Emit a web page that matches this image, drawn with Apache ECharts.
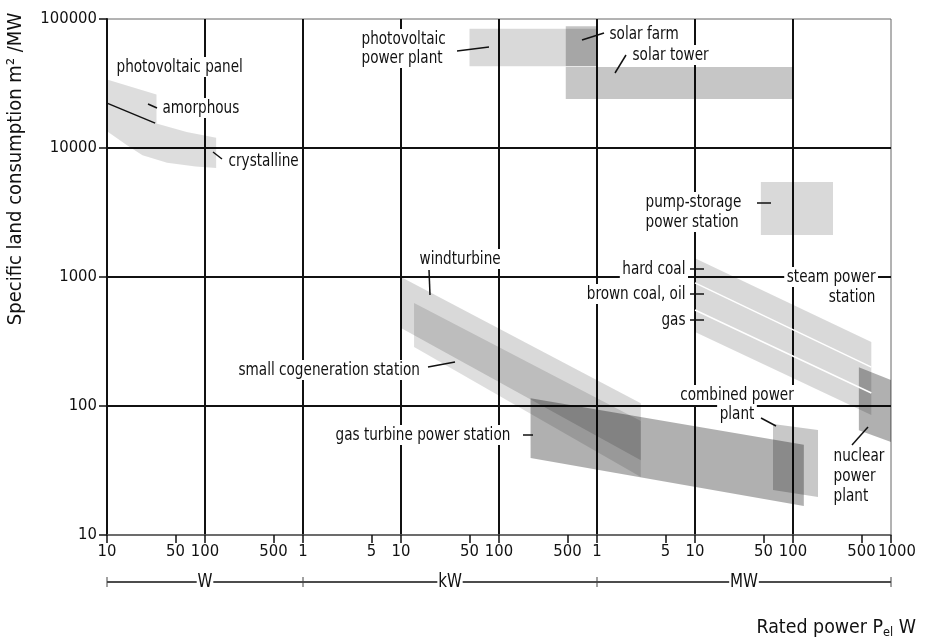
<!DOCTYPE html>
<html>
<head>
<meta charset="utf-8">
<script src="https://cdn.jsdelivr.net/npm/echarts@6/dist/echarts.min.js"></script>
<style>
  html, body { margin: 0; padding: 0; background: #fff; }
  #chart { width: 926px; height: 644px; }
</style>
</head>
<body>
<div id="chart"></div>
<script>
const FONT = "'DejaVu Sans Condensed', 'Liberation Sans Narrow', 'Roboto', sans-serif";
const INK = '#111';

// Axis ticks: rated power in W (labels restart at each unit prefix), land use in m²/MW
const xDecadeTicks = [10, 100, 1e3, 1e4, 1e5, 1e6, 1e7, 1e8, 1e9];
const xDecadeLabels = ['10', '100', '1', '10', '100', '1', '10', '100', '1000'];
const xHalfTicks = [50, 500, 5e3, 5e4, 5e5, 5e6, 5e7, 5e8];
const xHalfLabels = ['50', '500', '5', '50', '500', '5', '50', '500'];
const yTicks = [10, 100, 1000, 10000, 100000];

// Technology ranges as outlines of [rated power W, land consumption m²/MW]
const pvPanel = [[10, 34000], [32, 26000], [32, 15500], [65, 13300], [130, 12000], [130, 7000],
                 [80, 7200], [41, 7700], [23, 8800], [16, 10500], [10, 13500]];
const pvAmorphous = [[10, 22300], [31, 15600]];
const pvPlant = [[50000, 84000], [1e6, 84000], [1e6, 43000], [50000, 43000]];
const solarFarm = [[480000, 88000], [1e6, 88000], [1e6, 43000], [480000, 43000]];
const solarTower = [[480000, 42500], [1e8, 42500], [1e8, 24000], [480000, 24000]];
const pumpStorage = [[47e6, 5450], [256e6, 5450], [256e6, 2120], [47e6, 2120]];
const steamPlant = [[1e7, 1400], [6.3e8, 313], [6.3e8, 85], [1e7, 375]];
const steamHardCoalEdge = [[1e7, 900], [6.3e8, 200]];
const steamBrownCoalEdge = [[1e7, 555], [6.3e8, 126]];
const nuclearPlant = [[4.7e8, 200], [1e9, 159], [1e9, 52.6], [4.7e8, 65]];
const windTurbine = [[1e4, 1000], [2.8e6, 105], [2.8e6, 38], [1e4, 403]];
const cogeneration = [[13600, 628], [2.8e6, 76.6], [2.8e6, 28.2], [13600, 287]];
const gasTurbine = [[2.1e5, 115], [1.29e8, 50], [1.29e8, 16.8], [2.1e5, 39.5]];
const combinedCycle = [[6.25e7, 72.4], [1.8e8, 65.2], [1.8e8, 19.7], [6.25e7, 22.3]];

function areaSeries(name, pts, fill) {
  return {
    type: 'custom', name, coordinateSystem: 'cartesian2d', z: 2,
    data: pts, silent: true,
    renderItem(params, api) {
      if (params.dataIndex !== 0) return null;
      return { type: 'polygon', shape: { points: pts.map(p => api.coord(p)) }, style: { fill } };
    }
  };
}
function lineSeries(name, pts, color, width) {
  return {
    type: 'line', name, data: pts, symbol: 'none', silent: true, z: 3,
    lineStyle: { color, width }
  };
}

const chart = echarts.init(document.getElementById('chart'), null, { renderer: 'canvas' });

const labelFmt = (ticks, labels) => v => {
  const i = ticks.findIndex(t => Math.abs(Math.log10(t) - Math.log10(v)) < 1e-6);
  return i < 0 ? '' : labels[i];
};
const AXIS_FS = 16.5;
const lastX = xDecadeTicks[xDecadeTicks.length - 1];

chart.setOption({
  animation: false,
  backgroundColor: '#fff',
  grid: { left: 107, right: 35, top: 19, bottom: 109, show: true, borderColor: '#666', borderWidth: 1 },
  xAxis: [{
    type: 'log', logBase: 10, min: 10, max: 1e9,
    axisLine: { show: true, lineStyle: { color: '#555', width: 1.5 } },
    axisTick: { show: true, inside: false, length: 8, lineStyle: { color: INK, width: 1.5 } },
    axisLabel: { margin: 8, fontFamily: FONT, fontSize: AXIS_FS, color: INK, showMinLabel: true, showMaxLabel: true,
                 formatter: v => {
                   const s = labelFmt(xDecadeTicks, xDecadeLabels)(v);
                   // the closing label sits a little right of its tick
                   return Math.abs(Math.log10(v) - Math.log10(lastX)) < 1e-6 ? '{end|' + s + '}' : s;
                 },
                 rich: { end: { fontFamily: FONT, fontSize: AXIS_FS, color: INK, padding: [0, 0, 0, 12] } } },
    splitLine: { show: true, showMinLine: false, showMaxLine: false, lineStyle: { color: INK, width: 2 } },
    minorTick: { show: false }
  }, {
    type: 'value', min: 1, max: 9, position: 'bottom', offset: 0,
    axisLine: { show: false },
    axisTick: { show: true, inside: false, length: 8, lineStyle: { color: INK, width: 1.5 },
                customValues: xHalfTicks.map(Math.log10) },
    axisLabel: { margin: 8, fontFamily: FONT, fontSize: AXIS_FS, color: INK,
                 customValues: xHalfTicks.map(Math.log10),
                 formatter: v => labelFmt(xHalfTicks, xHalfLabels)(Math.pow(10, v)) },
    splitLine: { show: false }
  }],
  yAxis: {
    type: 'log', logBase: 10, min: 10, max: 100000,
    axisLine: { show: true, lineStyle: { color: INK, width: 2 } },
    axisTick: { show: true, inside: false, length: 8, lineStyle: { color: INK, width: 1.5 } },
    axisLabel: { margin: 10, fontFamily: FONT, fontSize: AXIS_FS, color: INK,
                 formatter: labelFmt(yTicks, yTicks.map(String)) },
    splitLine: { show: true, showMinLine: false, showMaxLine: false, lineStyle: { color: INK, width: 2 } }
  },
  series: [
    areaSeries('photovoltaic panel', pvPanel, 'rgba(0,0,0,0.135)'),
    lineSeries('amorphous', pvAmorphous, INK, 1.5),
    areaSeries('photovoltaic power plant', pvPlant, 'rgba(0,0,0,0.15)'),
    areaSeries('solar farm', solarFarm, 'rgba(0,0,0,0.23)'),
    areaSeries('solar tower', solarTower, 'rgba(0,0,0,0.225)'),
    areaSeries('pump-storage power station', pumpStorage, 'rgba(0,0,0,0.15)'),
    areaSeries('steam power station', steamPlant, 'rgba(0,0,0,0.15)'),
    lineSeries('hard coal / brown coal', steamHardCoalEdge, '#fff', 1.5),
    lineSeries('brown coal / gas', steamBrownCoalEdge, '#fff', 1.5),
    areaSeries('nuclear power plant', nuclearPlant, 'rgba(0,0,0,0.31)'),
    areaSeries('windturbine', windTurbine, 'rgba(0,0,0,0.15)'),
    areaSeries('small cogeneration station', cogeneration, 'rgba(0,0,0,0.13)'),
    areaSeries('gas turbine power station', gasTurbine, 'rgba(0,0,0,0.31)'),
    areaSeries('combined power plant', combinedCycle, 'rgba(0,0,0,0.215)')
  ]
});

// Annotations, leader lines, unit bar and axis titles (narrowed lettering)
const TXT = 18;
const NARROW = 0.84;
function note(text, x, y, align) {
  return { type: 'text', x, y, z: 100, silent: true, scaleX: NARROW,
    style: { text, fontFamily: FONT, fontSize: TXT, fill: INK, align: align || 'left',
             verticalAlign: 'middle', backgroundColor: '#fff', padding: [1, 3] } };
}
function leader(x1, y1, x2, y2) {
  return { type: 'line', z: 101, silent: true, shape: { x1, y1, x2, y2 },
           style: { stroke: INK, lineWidth: 1.5 } };
}

const px = v => chart.convertToPixel({ xAxisIndex: 0 }, v);
const barY = 582;
const unitStops = [10, 1e3, 1e6, 1e9].map(px);
const unitNames = ['W', 'kW', 'MW'];
const unitBar = [
  { type: 'line', z: 90, silent: true, shape: { x1: unitStops[0], y1: barY, x2: unitStops[3], y2: barY },
    style: { stroke: INK, lineWidth: 1.5 } }
];
unitStops.forEach(s => unitBar.push({ type: 'line', z: 91, silent: true,
  shape: { x1: s, y1: barY - 5, x2: s, y2: barY + 5 }, style: { stroke: '#444', lineWidth: 1 } }));
unitNames.forEach((n, i) => unitBar.push({ type: 'text', z: 92, silent: true, scaleX: NARROW,
  x: (unitStops[i] + unitStops[i + 1]) / 2, y: barY,
  style: { text: n, fontFamily: FONT, fontSize: 20, fill: INK, align: 'center', verticalAlign: 'middle',
           backgroundColor: '#fff', padding: [0, 1] } }));

chart.setOption({
  graphic: [
    note('photovoltaic panel', 114, 67),
    note('amorphous', 160, 108), leader(148, 104, 157, 108),
    note('crystalline', 226, 161), leader(213, 152, 222, 159),
    note('photovoltaic', 359, 39), note('power plant', 359, 58), leader(457, 51, 489, 47),
    note('solar farm', 607, 34), leader(582, 40, 604, 33),
    note('solar tower', 630, 55), leader(615, 73, 626, 55),
    note('pump-storage', 643, 202), note('power station', 643, 222), leader(757, 203, 771, 203),
    note('hard coal', 688, 269, 'right'), leader(690, 269, 704, 269),
    note('brown coal, oil', 688, 294, 'right'), leader(690, 294, 704, 294),
    note('gas', 688, 320, 'right'), leader(690, 320, 704, 320),
    note('steam power', 878, 277, 'right'), note('station', 878, 297, 'right'),
    note('windturbine', 417, 259), leader(429, 270, 430, 295),
    note('small cogeneration station', 236, 370), leader(428, 367, 455, 362),
    note('gas turbine power station', 333, 435), leader(523, 435, 533, 435),
    note('combined power', 737, 395, 'center'), note('plant', 737, 414, 'center'), leader(761, 418, 776, 426),
    note('nuclear', 831, 456), note('power', 831, 476), note('plant', 831, 496), leader(868, 427, 852, 445),
    ...unitBar,
    { type: 'text', z: 100, silent: true, x: 16, y: 169, rotation: Math.PI / 2,
      style: { text: 'Specific land consumption m² /MW', fontFamily: FONT, fontSize: 20, fill: INK,
               align: 'center', verticalAlign: 'middle' } },
    { type: 'text', z: 100, silent: true, x: 916, y: 628, scaleX: 0.97,
      style: { text: '{t|Rated power P}{s|el}{t| W}', align: 'right', verticalAlign: 'middle',
               rich: { t: { fontFamily: FONT, fontSize: 20, fill: INK },
                       s: { fontFamily: FONT, fontSize: 13, fill: INK, padding: [10, 0, 0, 0] } } } }
  ]
});
</script>
</body>
</html>
